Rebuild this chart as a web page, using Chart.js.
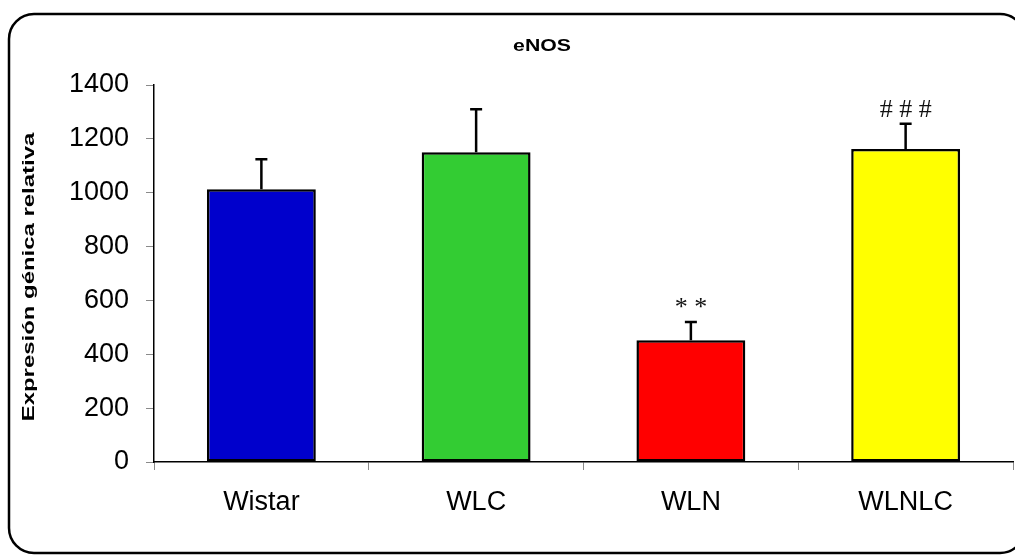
<!DOCTYPE html>
<html>
<head>
<meta charset="utf-8">
<script src="https://cdn.jsdelivr.net/npm/chart.js@4/dist/chart.umd.min.js"></script>
<style>
  html, body { margin: 0; padding: 0; background: #fff; overflow: hidden; }
  #wrap { width: 1015px; height: 556px; position: relative; }
</style>
</head>
<body>
<div id="wrap"><canvas id="c" width="1015" height="556"></canvas></div>
<script>
// Groups and measured eNOS expression (mean and upper error)
const groups = ['Wistar', 'WLC', 'WLN', 'WLNLC'];
const means = [1013, 1150, 452, 1162];
const errorsUp = [111, 160, 68, 94];
// Significance marks shown above each group
const marks = ['', '', '* *', '# # #'];
const barColors = ['#0000CC', '#33CC33', '#FF0000', '#FFFF00'];
const yMin = 0, yMax = 1400, yStep = 200;
const chartTitle = 'eNOS';
const yTitle = 'Expresión génica relativa';

const SANS = '"Liberation Sans", Arial, sans-serif';
const SERIF = '"Liberation Serif", "Times New Roman", serif';

// Rounded outer frame around the whole chart
const framePlugin = {
  id: 'frame',
  afterDraw(chart) {
    const ctx = chart.ctx;
    const x = 9, y = 14, w = 1016, h = 539, r = 25;
    ctx.save();
    ctx.lineWidth = 2.5;
    ctx.strokeStyle = '#000';
    ctx.beginPath();
    ctx.moveTo(x + r, y);
    ctx.lineTo(x + w - r, y);
    ctx.arcTo(x + w, y, x + w, y + r, r);
    ctx.lineTo(x + w, y + h - r);
    ctx.arcTo(x + w, y + h, x + w - r, y + h, r);
    ctx.lineTo(x + r, y + h);
    ctx.arcTo(x, y + h, x, y + h - r, r);
    ctx.lineTo(x, y + r);
    ctx.arcTo(x, y, x + r, y, r);
    ctx.closePath();
    ctx.stroke();
    ctx.restore();
  }
};

// Upper error bars, plus significance marks above them
const errorPlugin = {
  id: 'errorBars',
  afterDatasetsDraw(chart) {
    const ctx = chart.ctx;
    const ys = chart.scales.y;
    const meta = chart.getDatasetMeta(0);
    ctx.save();
    ctx.strokeStyle = '#000';
    ctx.lineWidth = 2.5;
    ctx.lineCap = 'butt';
    meta.data.forEach((bar, i) => {
      const x = bar.x;
      const yBar = ys.getPixelForValue(means[i]);
      const yTop = ys.getPixelForValue(means[i] + errorsUp[i]);
      ctx.beginPath();
      ctx.moveTo(x, yBar);
      ctx.lineTo(x, yTop);
      ctx.moveTo(x - 6, yTop);
      ctx.lineTo(x + 6, yTop);
      ctx.stroke();
      if (marks[i]) {
        ctx.fillStyle = '#111';
        ctx.font = '26px ' + SERIF;
        ctx.textAlign = 'center';
        ctx.textBaseline = 'alphabetic';
        ctx.fillText(marks[i], x, yTop - 7);
      }
    });
    ctx.restore();
  }
};

// Chart title and vertical axis title
const titlesPlugin = {
  id: 'titles',
  afterDraw(chart) {
    const ctx = chart.ctx;
    ctx.save();
    ctx.fillStyle = '#000';
    ctx.textAlign = 'center';
    ctx.textBaseline = 'middle';
    // title
    ctx.save();
    ctx.translate(542, 46);
    ctx.scale(1.25, 1);
    ctx.font = 'bold 17px ' + SANS;
    ctx.fillText(chartTitle, 0, 0);
    ctx.restore();
    // y axis title
    ctx.save();
    ctx.translate(29, 277);
    ctx.rotate(-Math.PI / 2);
    ctx.scale(1.45, 1.05);
    ctx.font = 'bold 16.5px ' + SANS;
    ctx.fillText(yTitle, 0, 0);
    ctx.restore();
    ctx.restore();
  }
};

new Chart(document.getElementById('c'), {
  type: 'bar',
  data: {
    labels: groups,
    datasets: [{
      data: means,
      backgroundColor: barColors,
      borderColor: '#000',
      borderWidth: 2.5,
      borderSkipped: false,
      categoryPercentage: 1.0,
      barPercentage: 0.507
    }]
  },
  options: {
    responsive: false,
    animation: false,
    devicePixelRatio: 1,
    layout: { padding: { top: 85, right: 2, left: 0, bottom: 0 } },
    plugins: {
      legend: { display: false },
      tooltip: { enabled: false },
      title: { display: false }
    },
    scales: {
      x: {
        afterFit(s) { s.height = 94; },
        grid: {
          drawOnChartArea: false,
          drawTicks: true,
          tickLength: 8,
          color: '#8a8a8a',
          offset: true
        },
        border: { display: true, color: '#000', width: 1.5 },
        ticks: {
          color: '#000',
          padding: 16,
          font: { family: SANS, size: 27 }
        }
      },
      y: {
        min: yMin,
        max: yMax,
        afterFit(s) { s.width = 154; },
        grid: {
          drawOnChartArea: false,
          drawTicks: true,
          tickLength: 8,
          color: '#8a8a8a'
        },
        border: { display: true, color: '#000', width: 1.5 },
        ticks: {
          stepSize: yStep,
          color: '#000',
          padding: 17,
          font: { family: SANS, size: 27 },
          callback: (v) => String(v)
        }
      }
    }
  },
  plugins: [framePlugin, errorPlugin, titlesPlugin]
});
</script>
</body>
</html>
